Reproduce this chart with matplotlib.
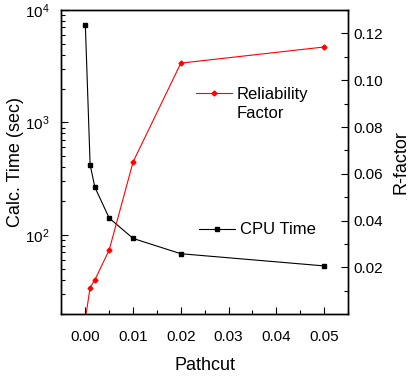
import matplotlib
matplotlib.use("Agg")
import matplotlib.pyplot as plt
from matplotlib.ticker import MultipleLocator, LogLocator, NullFormatter

plt.rcParams['font.family'] = ['Liberation Sans', 'DejaVu Sans']

# values
pathcut = [0.0, 0.001, 0.002, 0.005, 0.01, 0.02, 0.05]
cpu_time = [7300, 420, 265, 141, 93, 68, 53]
r_factor = [-0.002, 0.0114, 0.0147, 0.0275, 0.0651, 0.1073, 0.1142]

W, H = 417, 381
fig = plt.figure(figsize=(W / 100, H / 100), dpi=100)
ax = fig.add_axes([61 / W, 1 - 313.5 / H, 287 / W, 303.5 / H])
ax2 = ax.twinx()

lw = 0.8
line_cpu, = ax.plot(pathcut, cpu_time, color="black", lw=lw, marker="s", ms=3,
                    label="CPU Time")
line_r, = ax2.plot(pathcut, r_factor, color="red", lw=lw, marker="D", ms=2.5,
                   label="Reliability")

ax.set_yscale("log")
ax.set_xlim(-0.0051, 0.055)
ax.set_ylim(20, 1e4)
ax2.set_ylim(0.0003, 0.13)

ax.xaxis.set_major_locator(MultipleLocator(0.01))
ax.xaxis.set_minor_locator(MultipleLocator(0.005))
ax.xaxis.set_major_formatter(plt.FuncFormatter(lambda v, p: f"{v:.2f}"))
ax.yaxis.set_major_locator(LogLocator(base=10, numticks=10))
ax.yaxis.set_minor_locator(LogLocator(base=10, subs=range(2, 10), numticks=10))
ax.yaxis.set_minor_formatter(NullFormatter())
ax2.yaxis.set_major_locator(MultipleLocator(0.02))
ax2.yaxis.set_minor_locator(MultipleLocator(0.01))
ax2.yaxis.set_major_formatter(plt.FuncFormatter(lambda v, p: f"{v:.2f}"))

for a in (ax, ax2):
    for s in a.spines.values():
        s.set_linewidth(1.0)
ax.tick_params(which="both", direction="in", labelsize=11, width=0.8)
ax.tick_params(which="major", length=5)
ax.tick_params(which="minor", length=3)
ax.tick_params(axis="x", pad=12)
ax.tick_params(axis="y", pad=8)
ax2.tick_params(which="both", direction="in", labelsize=11, width=0.8, pad=4)
ax2.tick_params(which="major", length=5)
ax2.tick_params(which="minor", length=3)

ax.set_xlabel("Pathcut", fontsize=13)
ax.set_ylabel("Calc. Time (sec)", fontsize=13)
ax2.set_ylabel("R-factor", fontsize=13)
ax.xaxis.set_label_coords(0.5, -0.17)
ax.yaxis.set_label_coords(-0.16, 0.5)
ax2.yaxis.set_label_coords(1.185, 0.5)
for lab in (ax.yaxis.label, ax2.yaxis.label):
    lab.set(va="center", ha="center", rotation_mode="default")
ax.xaxis.label.set(va="center")

# legends: handle sits beside the first line of the wrapped label
leg_kw = dict(loc="center left", frameon=False, bbox_transform=fig.transFigure,
              borderpad=0, borderaxespad=0, handlelength=2.15, handletextpad=0.3,
              fontsize=12)
leg1 = ax2.legend(handles=[line_r], bbox_to_anchor=(196 / W, 1 - 94 / H), **leg_kw)
ax2.add_artist(leg1)
fig.text(236.5 / W, 1 - 113 / H, "Factor", fontsize=12, ha="left", va="center")
ax2.legend(handles=[line_cpu], bbox_to_anchor=(199 / W, 1 - 230 / H), **leg_kw)

fig.savefig("out.png", dpi=100)
